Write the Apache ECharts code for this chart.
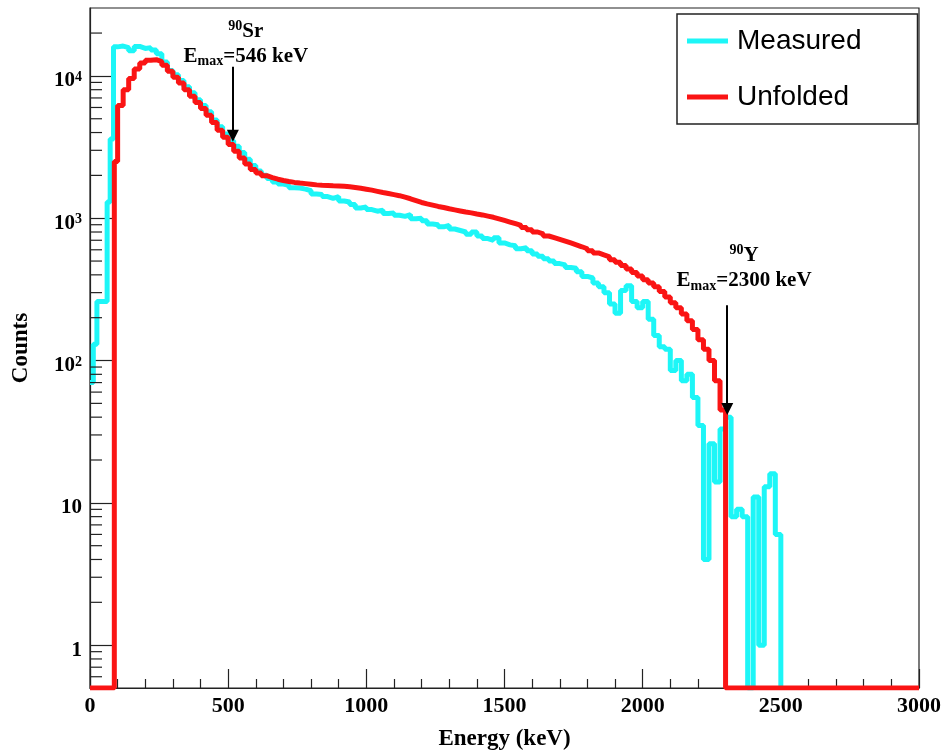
<!DOCTYPE html>
<html><head><meta charset="utf-8">
<script src="https://cdn.jsdelivr.net/npm/echarts@6/dist/echarts.min.js"></script>
<style>html,body{margin:0;padding:0;background:#fff}#c{width:944px;height:756px}</style>
</head><body><div id="c"></div>
<script>
// ---- data ----
const binWidth = 20;
const xMax = 3000;
const yMin = 0.5, yMax = 30000;

const measuredLeadEnergy = [0, 12, 25, 62, 73, 85];
const measuredLeadCounts = [70, 130, 260, 1300, 3600, 16000];
const measuredStart = 100;
const measuredCounts = [
  16200,15800,15000,16100,15600,15800,15200,14300,12500,10900,
  10200,9300,8400,7600,6800,6200,5600,4900,4400,3900,
  3500,3200,2900,2600,2350,2150,2000,1900,1800,1740,
  1700,1640,1630,1600,1560,1480,1470,1420,1380,1420,
  1320,1300,1250,1180,1200,1150,1120,1140,1080,1090,
  1050,1030,1060,990,1000,960,910,900,870,890,
  840,820,800,770,800,750,720,700,730,670,
  650,640,610,620,590,560,540,520,500,480,
  470,450,445,420,390,380,350,330,300,250,
  215,310,335,260,235,260,195,150,125,120,
  85,100,72,80,55,35,4,26,14,33,
  40,8,9,8,0,11,1,13,16,6
];
const measuredEnd = 2500;

const unfoldedLeadEnergy = [0, 88];
const unfoldedLeadCounts = [0, 2500];
const unfoldedStart = 100;
const unfoldedCounts = [
  6200,8000,9600,11200,12300,12900,13000,12600,11900,
  10800,9800,8900,8000,7200,6500,5900,5300,4700,4150,
  3700,3300,2950,2650,2400,2200,2080,1990,1930,1880,
  1840,1810,1785,1765,1750,1735,1715,1705,1700,1690,
  1685,1675,1665,1645,1625,1600,1575,1545,1515,1490,
  1465,1440,1405,1370,1330,1290,1260,1235,1210,1190,
  1165,1145,1125,1105,1090,1070,1055,1035,1015,990,
  965,940,915,890,860,830,800,775,750,730,
  710,690,670,650,630,610,590,570,552,535,
  510,490,465,440,415,392,370,350,330,305,
  280,255,235,212,190,165,140,120,100,72,
  45
];
const unfoldedEnd = 2300;

const yMinorTicks = [0.6,0.7,0.8,0.9,2,3,4,5,6,7,8,9,20,30,40,50,60,70,80,90,
  200,300,400,500,600,700,800,900,2000,3000,4000,5000,6000,7000,8000,9000,20000];

const srArrow = [517, 11600, 3800];   // energy, from, to
const yArrow = [2306, 245, 45.7];
const srLabelPos = [[564, 20500], [564, 13700]];
const yLabelPos = [[2367, 545], [2367, 362]];

// ---- build ----
const clampY = v => Math.max(v, yMin);
const measuredData = [];
measuredLeadEnergy.forEach((e, i) => measuredData.push([e, clampY(measuredLeadCounts[i])]));
measuredCounts.forEach((v, i) => measuredData.push([measuredStart + i * binWidth, clampY(v)]));
measuredData.push([measuredEnd, yMin]);

const unfoldedData = [];
unfoldedLeadEnergy.forEach((e, i) => unfoldedData.push([e, clampY(unfoldedLeadCounts[i])]));
unfoldedCounts.forEach((v, i) => unfoldedData.push([unfoldedStart + i * binWidth, clampY(v)]));
unfoldedData.push([unfoldedEnd, yMin]);
unfoldedData.push([xMax, yMin]);

const SERIF = 'Liberation Serif';
const annRich = {
  sup: {fontFamily: SERIF, fontWeight: 'bold', fontSize: 14, color: '#000', verticalAlign: 'top'},
  t: {fontFamily: SERIF, fontWeight: 'bold', fontSize: 21, color: '#000', lineHeight: 24},
  sub: {fontFamily: SERIF, fontWeight: 'bold', fontSize: 14, color: '#000', verticalAlign: 'bottom'}
};
function annPoint(coord, text) {
  return {coord: coord, symbol: 'circle', symbolSize: 1, itemStyle: {color: 'rgba(0,0,0,0)'},
    label: {show: true, position: 'inside', formatter: text, rich: annRich}};
}

const chart = echarts.init(document.getElementById('c'), null, {renderer: 'canvas'});
chart.setOption({
  animation: false,
  backgroundColor: '#fff',
  grid: {left: 90, right: 24, top: 8, bottom: 66, show: true, borderColor: '#222', borderWidth: 1.2, containLabel: false},
  legend: {
    data: ['Measured', 'Unfolded'], orient: 'vertical', left: 677, top: 14,
    itemWidth: 41, itemHeight: 5, itemGap: 28, icon: 'rect',
    padding: [13, 56, 13, 10], borderColor: '#222', borderWidth: 1.5,
    textStyle: {fontFamily: 'Liberation Sans', fontSize: 28, color: '#000', lineHeight: 28, padding: [0, 0, 0, 4]}
  },
  xAxis: {
    type: 'value', min: 0, max: xMax, interval: 500,
    name: 'Energy (keV)', nameLocation: 'middle', nameGap: 40,
    nameTextStyle: {fontFamily: SERIF, fontWeight: 'bold', fontSize: 23, color: '#000'},
    axisLine: {lineStyle: {color: '#222', width: 1.2}},
    axisTick: {inside: true, length: 19, lineStyle: {color: '#222', width: 1.2}},
    minorTick: {show: true, splitNumber: 5, length: 9, lineStyle: {color: '#222', width: 1.2}},
    splitLine: {show: false},
    axisLabel: {fontFamily: SERIF, fontWeight: 'bold', fontSize: 22, color: '#000', margin: 7,
      formatter: v => String(v)}
  },
  yAxis: {
    type: 'log', logBase: 10, min: yMin, max: yMax,
    name: 'Counts', nameLocation: 'middle', nameGap: 57, nameRotate: 90,
    nameTextStyle: {fontFamily: SERIF, fontWeight: 'bold', fontSize: 23, color: '#000'},
    axisLine: {lineStyle: {color: '#222', width: 1.2}},
    axisTick: {inside: true, length: 25, lineStyle: {color: '#222', width: 1.2}},
    splitLine: {show: false},
    axisLabel: {
      fontFamily: SERIF, fontWeight: 'bold', fontSize: 21, color: '#000', margin: 8,
      showMinLabel: false, showMaxLabel: false, padding: [10, 0, 0, 0],
      formatter: function (v) {
        const e = Math.round(Math.log10(v));
        if (e <= 0) return '{b|1}';
        if (e === 1) return '{b|10}';
        return '{b|10}{s|' + e + '}';
      },
      rich: {
        b: {fontFamily: SERIF, fontWeight: 'bold', fontSize: 21, color: '#000'},
        s: {fontFamily: SERIF, fontWeight: 'bold', fontSize: 14, color: '#000', verticalAlign: 'top'}
      }
    }
  },
  series: [
    {
      name: 'Measured', type: 'line', step: 'end', data: measuredData, showSymbol: false,
      color: '#1df6f7', lineStyle: {width: 5, color: '#1df6f7'}, z: 2
    },
    {
      name: 'Unfolded', type: 'line', step: 'end', data: unfoldedData, showSymbol: false,
      color: '#fa1414', lineStyle: {width: 5, color: '#fa1414'}, z: 3,
      markLine: {
        silent: true, symbol: ['none', 'triangle'], symbolSize: 12,
        lineStyle: {color: '#000', width: 2, type: 'solid'}, label: {show: false},
        itemStyle: {color: '#000'},
        data: [
          [{coord: [srArrow[0], srArrow[1]]}, {coord: [srArrow[0], srArrow[2]]}],
          [{coord: [yArrow[0], yArrow[1]]}, {coord: [yArrow[0], yArrow[2]]}]
        ]
      },
      markPoint: {
        silent: true,
        data: [
          annPoint(srLabelPos[0], '{sup|90}{t|Sr}'),
          annPoint(srLabelPos[1], '{t|E}{sub|max}{t|=546 keV}'),
          annPoint(yLabelPos[0], '{sup|90}{t|Y}'),
          annPoint(yLabelPos[1], '{t|E}{sub|max}{t|=2300 keV}')
        ]
      }
    },
    {
      name: 'ticks', type: 'custom', coordinateSystem: 'cartesian2d', silent: true, clip: false, z: 5,
      data: yMinorTicks.map(v => [0, v]),
      renderItem: function (params, api) {
        const p = api.coord([api.value(0), api.value(1)]);
        return {type: 'line', shape: {x1: p[0], y1: p[1], x2: p[0] + 12, y2: p[1]},
          style: {stroke: '#222', lineWidth: 1.2}};
      }
    }
  ]
});
</script></body></html>
